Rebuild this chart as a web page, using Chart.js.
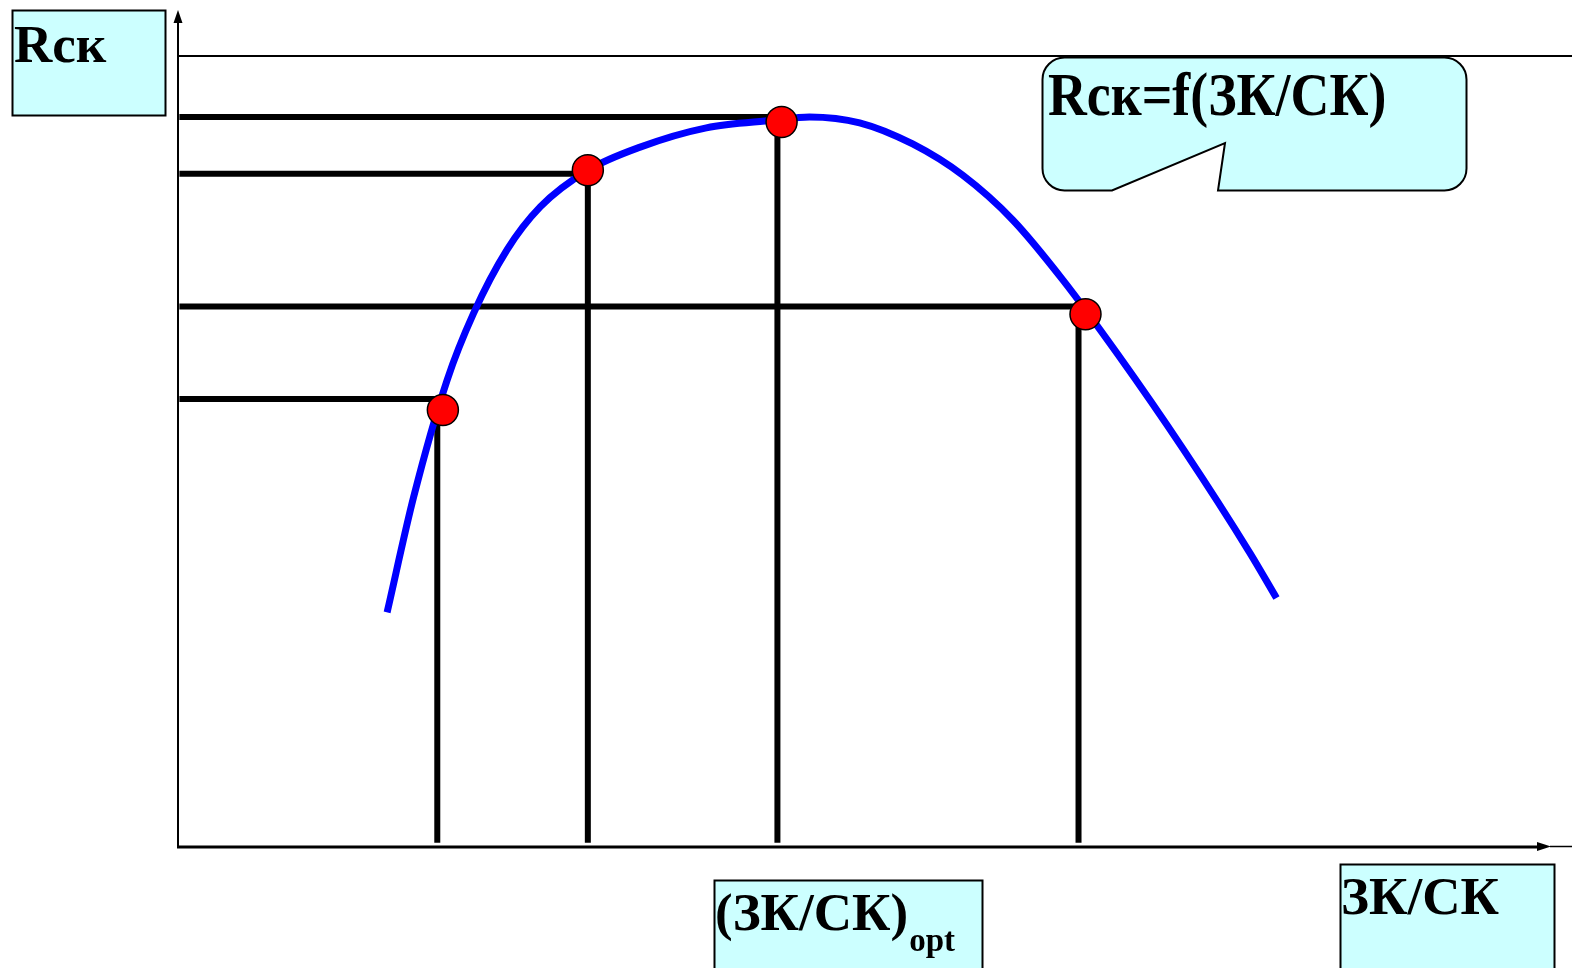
<!DOCTYPE html>
<html>
<head>
<meta charset="utf-8">
<script src="https://cdn.jsdelivr.net/npm/chart.js@4/dist/chart.umd.min.js"></script>
<style>
  html, body { margin: 0; padding: 0; background: #ffffff; overflow: hidden; }
  canvas { display: block; }
</style>
</head>
<body>
<canvas id="c" width="1572" height="968" style="width:1572px;height:968px;"></canvas>
<script>
// ---- data (schematic units: ЗК/СК on x, Rск on y, both 0..10) ----
const curveX = [1.50, 1.69, 1.93, 2.12, 2.36, 2.60, 2.94, 3.31, 3.79, 4.27, 4.53, 4.89, 5.27, 5.63, 5.99, 6.35, 6.74, 7.21, 7.69, 7.88];
const curveY = [2.77, 4.13, 5.51, 6.30, 7.05, 7.56, 7.99, 8.26, 8.49, 8.58, 8.62, 8.55, 8.30, 7.93, 7.40, 6.69, 5.82, 4.70, 3.47, 2.94];

const markX = [1.90, 2.94, 4.33, 6.51];
const markY = [5.16, 7.99, 8.56, 6.29];

const hGuideY   = [8.62, 7.95, 6.38, 5.29];
const hGuideEnd = [4.30, 2.93, 6.48, 1.90];
const hGuideStart = 0.01;

const vGuideX   = [1.86, 2.94, 4.30, 6.46];
const vGuideTop = [5.16, 7.99, 8.56, 6.29];
const vGuideBottom = 0.05;

const frameTopY = 9.34;

const yLabel = 'Rск';
const xLabel = 'ЗК/СК';
const optLabel = '(ЗК/СК)';
const optSub = 'opt';
const calloutLabel = 'Rск=f(ЗК/СК)';

// ---- datasets ----
const datasets = [];
datasets.push({
  label: 'points', data: markX.map((x, i) => ({x, y: markY[i]})),
  showLine: false, pointRadius: 15.5, pointBackgroundColor: '#ff0000',
  pointBorderColor: '#000000', pointBorderWidth: 1.5, order: 0
});
datasets.push({
  label: 'curve', data: curveX.map((x, i) => ({x, y: curveY[i]})),
  showLine: true, borderColor: '#0000ff', borderWidth: 7, pointRadius: 0,
  cubicInterpolationMode: 'monotone', order: 1
});
hGuideY.forEach((y, i) => datasets.push({
  label: 'h' + i, data: [{x: hGuideStart, y}, {x: hGuideEnd[i], y}],
  showLine: true, borderColor: '#000000', borderWidth: 6, pointRadius: 0,
  borderCapStyle: 'butt', order: 2
}));
vGuideX.forEach((x, i) => datasets.push({
  label: 'v' + i, data: [{x, y: vGuideBottom}, {x, y: vGuideTop[i]}],
  showLine: true, borderColor: '#000000', borderWidth: 6, pointRadius: 0,
  borderCapStyle: 'butt', order: 2
}));
datasets.push({
  label: 'frame', data: [{x: 0, y: frameTopY}, {x: 10, y: frameTopY}],
  showLine: true, borderColor: '#000000', borderWidth: 2, pointRadius: 0, order: 3
});

const FONT = 'bold 53px "Liberation Serif", "Times New Roman", serif';
const BOX = '#ccffff';

function labelBox(ctx, x, y, w, h) {
  ctx.save();
  ctx.fillStyle = BOX;
  ctx.fillRect(x, y, w, h);
  ctx.strokeStyle = '#000000';
  ctx.lineWidth = 2;
  ctx.strokeRect(x, y, w, h);
  ctx.restore();
}

const decor = {
  id: 'decor',
  beforeDatasetsDraw(chart) {
    const ctx = chart.ctx;
    const a = chart.chartArea;
    ctx.save();
    ctx.strokeStyle = '#000000';
    ctx.fillStyle = '#000000';
    // y axis with arrow
    ctx.lineWidth = 2;
    ctx.beginPath();
    ctx.moveTo(a.left, a.bottom + 1);
    ctx.lineTo(a.left, 20);
    ctx.stroke();
    ctx.beginPath();
    ctx.moveTo(a.left, 10); ctx.lineTo(a.left - 4.5, 23); ctx.lineTo(a.left + 4.5, 23); ctx.closePath(); ctx.fill();
    // x axis with arrow
    ctx.lineWidth = 3;
    ctx.beginPath();
    ctx.moveTo(a.left - 1, a.bottom);
    ctx.lineTo(1540, a.bottom);
    ctx.stroke();
    ctx.beginPath();
    ctx.moveTo(1551, a.bottom - 0.5); ctx.lineTo(1537, a.bottom - 5); ctx.lineTo(1537, a.bottom + 4); ctx.closePath(); ctx.fill();
    ctx.lineWidth = 1.5;
    ctx.beginPath();
    ctx.moveTo(1550, a.bottom - 0.5); ctx.lineTo(1572, a.bottom - 0.5); ctx.stroke();
    ctx.restore();
  },
  afterDraw(chart) {
    const ctx = chart.ctx;
    ctx.save();
    ctx.font = FONT;
    ctx.textBaseline = 'alphabetic';
    ctx.textAlign = 'left';

    // Rск box
    labelBox(ctx, 12.5, 10.5, 153, 105);
    ctx.fillStyle = '#000';
    ctx.fillText(yLabel, 14, 62);

    // ЗК/СК box
    labelBox(ctx, 1340.5, 864.5, 214, 120);
    ctx.fillStyle = '#000';
    ctx.fillText(xLabel, 1341, 914);

    // (ЗК/СК)opt box
    labelBox(ctx, 714.5, 880.5, 268, 110);
    ctx.fillStyle = '#000';
    ctx.fillText(optLabel, 715, 930);
    const w = ctx.measureText(optLabel).width;
    ctx.font = 'bold 33px "Liberation Serif", "Times New Roman", serif';
    ctx.fillText(optSub, 715 + w + 1, 951);

    // callout
    const L = 1042.5, T = 57.5, R = 1466.5, B = 190.5, r = 22;
    ctx.beginPath();
    ctx.moveTo(L + r, T);
    ctx.lineTo(R - r, T);
    ctx.arcTo(R, T, R, T + r, r);
    ctx.lineTo(R, B - r);
    ctx.arcTo(R, B, R - r, B, r);
    ctx.lineTo(1218, B);
    ctx.lineTo(1225, 143);
    ctx.lineTo(1112, B);
    ctx.lineTo(L + r, B);
    ctx.arcTo(L, B, L, B - r, r);
    ctx.lineTo(L, T + r);
    ctx.arcTo(L, T, L + r, T, r);
    ctx.closePath();
    ctx.fillStyle = BOX;
    ctx.fill();
    ctx.strokeStyle = '#000';
    ctx.lineWidth = 2;
    ctx.stroke();
    ctx.save();
    ctx.translate(1048, 115);
    ctx.scale(1.015, 1.14);
    ctx.font = FONT;
    ctx.fillStyle = '#000';
    ctx.fillText(calloutLabel, 0, 0);
    ctx.restore();

    ctx.restore();
  }
};

new Chart(document.getElementById('c'), {
  type: 'scatter',
  data: { datasets },
  options: {
    responsive: false,
    maintainAspectRatio: false,
    devicePixelRatio: 1,
    animation: false,
    events: [],
    layout: { autoPadding: false, padding: { left: 178, right: 0, top: 0, bottom: 121 } },
    plugins: { legend: { display: false }, tooltip: { enabled: false } },
    scales: {
      x: { type: 'linear', min: 0, max: 10, display: false },
      y: { type: 'linear', min: 0, max: 10, display: false }
    }
  },
  plugins: [decor]
});
</script>
</body>
</html>
